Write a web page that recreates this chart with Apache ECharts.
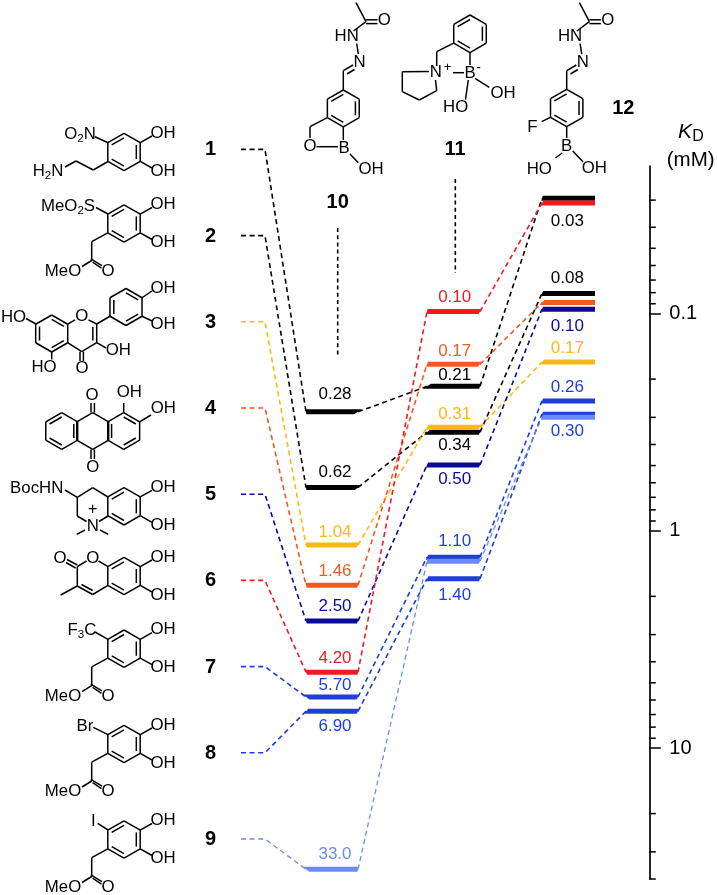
<!DOCTYPE html>
<html><head><meta charset="utf-8">
<style>html,body{margin:0;padding:0;background:#fff}#c{width:717px;height:895px}</style>
<script src="https://cdn.jsdelivr.net/npm/echarts@6/dist/echarts.min.js"></script>
</head><body><div id="c"></div>
<script>
// ---------- data ----------
const compoundIds = ['1','2','3','4','5','6','7','8','9'];
const kd10 = [0.283,0.631,1.16,1.78,2.60,4.47,5.81,6.76,36.1];
const kd11 = [0.216,0.351,0.333,0.171,0.497,0.0977,1.32,1.66,1.38];
const kd12 = [0.0294,0.0807,0.167,0.0888,0.0953,0.0309,0.252,0.290,0.300];
const labels10 = ['0.28','0.62','1.04','1.46','2.50','4.20','5.70','6.90','33.0'];
const labels11 = ['0.21','0.34','0.31','0.17','0.50','0.10','1.10','1.40',''];
const labels12 = ['0.03','0.08','0.17','','0.10','','0.26','0.30',''];
const majorTicks = [0.1,1,10];
const minorTicks = [0.03,0.04,0.05,0.06,0.07,0.08,0.09,0.2,0.3,0.4,0.5,0.6,0.7,0.8,0.9,2,3,4,5,6,7,8,9,20,30,40];
// ---------- styles / layout ----------
const colours = ['#000000','#000000','#FDB913','#F15A22','#0A0A9A','#ED1C24','#1E3FDC','#1E3FDC','#6A8CF2'];
const offsets10 = [-17.7,-15,-12.7,-14,-14.7,-14,-11.7,15,-15];
const offsets11 = [-11,12.7,-13.3,-13.3,14.3,-14.3,-16.3,16.7,0];
const offsets12 = [23,-15.6,-13.7,0,17,0,-13.7,16.7,0];
const rowTop = 149.4, rowStep = 86.2;
const stub = [241,265];
const col10 = [306,358], col11 = [427,480], col12 = [542,595];
const FONT = '"Liberation Sans",Arial,sans-serif';

const measure = document.createElement('canvas').getContext('2d');
const LW = 1.5, g = [];
function bond(x1,y1,x2,y2){ g.push({type:'line',silent:true,shape:{x1,y1,x2,y2},style:{stroke:'#000',lineWidth:LW}}); }
function chain(pts){ for(let i=0;i<pts.length-1;i++) bond(pts[i][0],pts[i][1],pts[i+1][0],pts[i+1][1]); }
function txt(x,y,text,font,opt){ g.push({type:'text',silent:true,x,y,style:Object.assign({text,font,fill:'#000',align:'center',verticalAlign:'middle'},opt||{})}); }
function chem(cx,cy,s){ // '_' makes the next character a subscript
  const parts=[]; let w=0; const re=/_(.)|([^_]+)/g; let m;
  while((m=re.exec(s))){ const sub=!!m[1]; const t=m[1]||m[2]; const f=(sub?'11.5px ':'16.8px ')+FONT; measure.font=f; const tw=measure.measureText(t).width; parts.push({t,f,sub,tw}); w+=tw; }
  let x=cx-w/2;
  parts.forEach(p=>{ txt(x,cy+(p.sub?4.5:0),p.t,p.f,{align:'left'}); x+=p.tw; });
}
function ring(cx,cy,R,inner){
  const v=[]; for(let k=0;k<6;k++){ const a=(-90+60*k)*Math.PI/180; v.push([cx+R*Math.cos(a),cy+R*Math.sin(a)]); }
  for(let k=0;k<6;k++){ const p=v[k],q=v[(k+1)%6]; bond(p[0],p[1],q[0],q[1]); }
  (inner||[]).forEach(k=>{ const p=v[k],q=v[(k+1)%6]; const s=0.76; bond(cx+(p[0]-cx)*s,cy+(p[1]-cy)*s,cx+(q[0]-cx)*s,cy+(q[1]-cy)*s); });
  return v;
}
const A=[5,1,3], B=[0,2,4];
function catechol(cy){ const v=ring(124,cy,18.7,A); bond(v[1][0],v[1][1],152,cy-16); bond(v[2][0],v[2][1],152,cy+16); chem(163,cy-19,'OH'); chem(163,cy+19,'OH'); return v; }
function ester(cy){ const cx=124; chain([[cx-16.2,cy+9.4],[cx-32.3,cy+18.2],[cx-32.3,cy+37]]);
  bond(cx-33.2,cy+35.4,cx-22,cy+42.2); bond(cx-31.4,cy+38.6,cx-22.5,cy+44.6); chem(cx-16,cy+47.5,'O');
  bond(cx-32.3,cy+37,cx-42,cy+43); chem(cx-61,cy+47.5,'MeO'); }
function hydrazone(dx){ chain([[343.3+dx,90],[343.3+dx,70.7],[353+dx,65]]); bond(347+dx,74,354.5+dx,69.5); chem(359.5+dx,62,'N');
  bond(358.3+dx,54,356.7+dx,43.5); chem(346.7+dx,36.7,'HN'); bond(353.5+dx,31,366+dx,21.7); bond(366+dx,21.7,356+dx,2.7);
  bond(366+dx,19.8,377.5+dx,19.8); bond(366+dx,23.6,377.5+dx,23.6); chem(384.3+dx,20.7,'O'); }

// 1
catechol(152); bond(95,136.7,108,142.7); chem(80,134.3,'O_2N'); chain([[108,161.5],[93.3,170],[76,161],[65,167]]); chem(48,171.7,'H_2N');
// 2
catechol(223.5); bond(96,207.5,108,214); chem(68,206.7,'MeO_2S'); ester(223.5);
// 3
{ const cy=307; const v=ring(126,cy,18.5,B); bond(v[1][0],v[1][1],152,cy-16); bond(v[2][0],v[2][1],152,cy+14); chem(163,288,'OH'); chem(163,324,'OH');
  bond(v[4][0],v[4][1],96.7,324);
  ring(51.7,333.5,18.5,B);
  chain([[67.7,324.2],[75,319.8]]); bond(88.5,319.8,96.7,324); chain([[96.7,324],[96.7,342.7],[81.7,351.7],[67.7,342.7]]); bond(92.8,327,92.8,340.5);
  chem(81.7,316,'O'); bond(80,351.7,80,361); bond(83.4,351.7,83.4,361); chem(82,368,'O');
  bond(96.7,342.7,106,348); chem(118.3,350.7,'OH'); bond(36,324,26,318.5); chem(13.5,317,'HO'); bond(51.7,352,51.7,359.5); chem(44,367.5,'HO'); }
// 4
{ ring(61.7,431,18.4,A); ring(92.7,431,18.4,[]); const v=ring(123.7,431,18.4,B);
  bond(91,412.6,91,403); bond(94.4,412.6,94.4,403); chem(92,395,'O'); bond(91,449.4,91,459); bond(94.4,449.4,94.4,459); chem(92.7,467,'O');
  bond(123.7,412.6,123.7,403); chem(129.3,392.7,'OH'); bond(v[1][0],v[1][1],151,415); chem(163.3,408.3,'OH'); }
// 5
{ catechol(506.3); chain([[108,497],[92.7,487.7],[77.3,497.3],[77.3,516],[86.5,521.5]]); bond(99,521.5,108,516);
  bond(77.3,497.3,65,490); chem(36.7,488.3,'BocHN'); chem(92.7,526,'N'); txt(92.7,509.3,'+','16px '+FONT);
  bond(85,530,76.7,534.3); bond(100,530,108.3,534.3); }
// 6
{ catechol(576); bond(108,566.6,98.5,561); chem(92.7,558.3,'O'); bond(86.5,561,77.3,566.7); chain([[77.3,566.7],[77.3,586],[92.7,594.5],[108,585.4]]); bond(81.5,584.5,92.7,590.5);
  bond(77.3,565,67,559.5); bond(75.6,568,66,562.5); chem(60,558.3,'O'); bond(77.3,586,60.7,595); }
// 7
catechol(648.7); bond(95,632,108,639.4); chem(82,630,'F_3C'); ester(648.7);
// 8
catechol(744); bond(93.3,727.3,108,734.6); chem(85,726,'Br'); ester(744);
// 9
catechol(839.5); bond(97.7,823.3,108,830); chem(93.3,821,'I'); ester(839.5);
// 10
ring(343.3,108.4,18.4,A); hydrazone(0); chain([[327.3,117.6],[310,126.7],[310,138]]); chem(310,146.7,'O'); bond(316.5,146.7,338,146.7); chem(344,148.3,'B');
bond(343.3,126.8,343.3,140); bond(350,154,358.3,162.7); chem(371,169,'OH'); txt(337.7,202.5,'10','bold 20px '+FONT);
// 11
ring(470,33.8,18.8,A); chain([[453.7,43.2],[436.7,51.7],[436.7,66]]); chem(435.7,72.7,'N'); txt(447.5,67.5,'+','13px '+FONT);
bond(453,72.7,464,72.7); chem(470,73.3,'B'); txt(478.5,68.5,'-','14px '+FONT); bond(470,52.6,470,65);
chain([[429,71.5],[402.3,71.7],[402.3,91.7],[419.3,100],[436.7,90.7],[435.5,80]]);
bond(475,78.3,489.3,87.3); chem(503,93.3,'OH'); bond(468.3,80,465.5,99.5); chem(455.7,107.3,'HO'); txt(455,149,'11','bold 20px '+FONT);
// 12
ring(566.7,108,18.7,A); hydrazone(223.4); bond(550.5,117.3,541.7,121.7); chem(532.3,127.3,'F'); chem(566.7,146.7,'B'); bond(566.7,126.7,566.7,138);
bond(555.5,158,562,153); chem(539.3,169,'HO'); bond(572.7,151,583,161.7); chem(594.3,168.3,'OH'); txt(623.3,108.3,'12','bold 20px '+FONT);
// K_D (mM)
txt(685,131.7,'K','italic 21px '+FONT); txt(698,136.5,'D','16px '+FONT); txt(690.7,160,'(mM)','20.5px '+FONT);
// guide dashes
[[337.7,228,357],[455.3,179,273]].forEach(d=>g.push({type:'line',silent:true,shape:{x1:d[0],y1:d[1],x2:d[0],y2:d[2]},style:{stroke:'#000',lineWidth:1.6,lineDash:[4,3.2]}}));

function barPolygon(x0,x1,y,yPrev,xPrev,yNext,xNext,h){
  // the ends of a level lean along the dashed connector that meets them
  const lean=(dx,dy)=>Math.min(4,Math.abs(dx)/Math.max(Math.abs(dy),0.01)*h/2);
  const l=yPrev==null?0:lean(x0-xPrev,y-yPrev)*(yPrev<y?1:-1);
  const r=yNext==null?0:lean(xNext-x1,yNext-y)*(yNext<y?1:-1);
  return [[x0-l,y-h/2],[x1+r,y-h/2],[x1-r,y+h/2],[x0+l,y+h/2]];
}
function seriesFor(i){
  return {
    type:'custom', coordinateSystem:'cartesian2d', silent:true, clip:false, z:3,
    encode:{x:0,y:[1,2,3]},
    data:[[col10[0],kd10[i],kd11[i],kd12[i]]],
    renderItem:function(p,api){
      const c=colours[i], lw=(i===8?1.3:1.6), el=[];
      const y=[1,2,3].map(k=>api.coord([0,api.value(k)])[1]);
      const X=v=>api.coord([v,0.1])[0];
      const row=rowTop+i*rowStep;
      const dash={stroke:c,lineWidth:lw,lineDash:[5,3.6],fill:null};
      el.push({type:'polyline',shape:{points:[[X(stub[0]),row],[X(stub[1]),row],[X(col10[0]),y[0]]]},style:dash});
      el.push({type:'polyline',shape:{points:[[X(col10[1]),y[0]],[X(col11[0]),y[1]]]},style:dash});
      el.push({type:'polyline',shape:{points:[[X(col11[1]),y[1]],[X(col12[0]),y[2]]]},style:dash});
      const h=5;
      el.push({type:'polygon',shape:{points:barPolygon(X(col10[0]),X(col10[1]),y[0],row,X(stub[1]),y[1],X(col11[0]),h)},style:{fill:c}});
      el.push({type:'polygon',shape:{points:barPolygon(X(col11[0]),X(col11[1]),y[1],y[0],X(col10[1]),y[2],X(col12[0]),h)},style:{fill:c}});
      el.push({type:'polygon',shape:{points:barPolygon(X(col12[0]),X(col12[1]),y[2],y[1],X(col11[1]),null,null,h)},style:{fill:c}});
      const lab=[[labels10[i],335,offsets10[i],y[0]],[labels11[i],454.7,offsets11[i],y[1]],[labels12[i],567.3,offsets12[i],y[2]]];
      lab.forEach(l=>{ if(l[0]) el.push({type:'text',x:X(l[1]),y:l[3]+l[2],style:{text:l[0],fill:c,font:'17px '+FONT,align:'center',verticalAlign:'middle'}}); });
      el.push({type:'text',x:X(210.5),y:row+0.5,style:{text:compoundIds[i],fill:'#000',font:'bold 20px '+FONT,align:'center',verticalAlign:'middle'}});
      return {type:'group',children:el};
    }
  };
}
const series = compoundIds.map((_,i)=>seriesFor(i));
series.push({
  type:'custom',coordinateSystem:'cartesian2d',silent:true,clip:false,z:2,
  encode:{x:0,y:1},
  data:minorTicks.map(v=>[649.3,v]),
  renderItem:function(p,api){ const q=api.coord([api.value(0),api.value(1)]);
    return {type:'line',shape:{x1:q[0],y1:q[1],x2:q[0]+6.5,y2:q[1]},style:{stroke:'#000',lineWidth:1.5}}; }
});
const chart = echarts.init(document.getElementById('c'),null,{renderer:'canvas'});
chart.setOption({
  animation:false, backgroundColor:'#fff',
  grid:{left:0,top:166,width:649.3,height:713,containLabel:false},
  xAxis:{type:'value',min:0,max:649.3,show:false},
  yAxis:{type:'log',logBase:10,inverse:true,min:0.0209,max:40,position:'right',splitLine:{show:false},
    axisLine:{show:true,onZero:false,lineStyle:{color:'#000',width:1.7}},
    axisTick:{show:true,inside:false,length:11.5,lineStyle:{color:'#000',width:1.5},customValues:majorTicks},
    minorTick:{show:false},
    axisLabel:{show:true,customValues:majorTicks,margin:20,color:'#000',fontFamily:'Liberation Sans',fontSize:20,formatter:v=>String(v)}},
  graphic:{elements:g},
  series
});
</script></body></html>
